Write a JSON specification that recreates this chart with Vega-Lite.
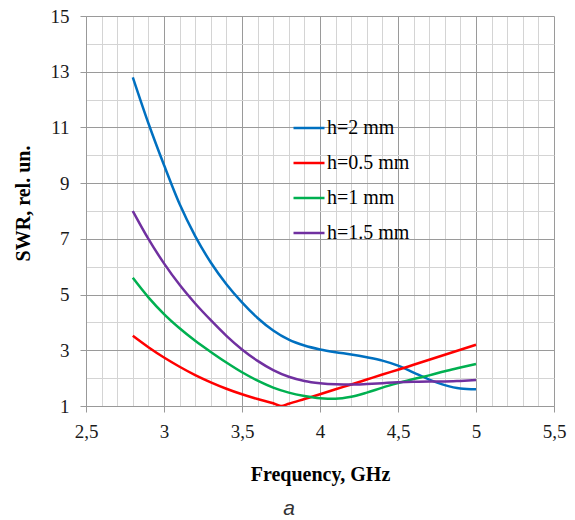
{
  "$schema": "https://vega.github.io/schema/vega-lite/v6.json",
  "autosize": "none",
  "width": 468,
  "height": 390,
  "padding": {"left": 86, "top": 16, "right": 21, "bottom": 114},
  "background": "white",
  "title": {
    "text": "a",
    "orient": "bottom",
    "anchor": "middle",
    "dx": -31,
    "offset": 14,
    "font": "Liberation Sans",
    "fontStyle": "italic",
    "fontWeight": "normal",
    "fontSize": 21,
    "color": "#333333"
  },
  "config": {
    "view": {"stroke": null},
    "axis": {
      "labelFontSize": 19,
      "labelColor": "#1a1a1a",
      "titleFont": "Liberation Serif",
      "titleFontSize": 20,
      "titleFontWeight": "bold",
      "titleColor": "#000000",
      "domainColor": "#999999",
      "tickSize": 6,
      "labelOverlap": false,
      "labelFlush": false,
      "labelBound": false
    }
  },
  "data": {
    "values": [
      {"f": 2.8, "v": 12.8, "h": "h=2 mm"},
      {"f": 2.9, "v": 11.15, "h": "h=2 mm"},
      {"f": 3.0, "v": 9.65, "h": "h=2 mm"},
      {"f": 3.1, "v": 8.25, "h": "h=2 mm"},
      {"f": 3.2, "v": 7.1, "h": "h=2 mm"},
      {"f": 3.3, "v": 6.15, "h": "h=2 mm"},
      {"f": 3.4, "v": 5.37, "h": "h=2 mm"},
      {"f": 3.5, "v": 4.72, "h": "h=2 mm"},
      {"f": 3.6, "v": 4.16, "h": "h=2 mm"},
      {"f": 3.7, "v": 3.71, "h": "h=2 mm"},
      {"f": 3.8, "v": 3.38, "h": "h=2 mm"},
      {"f": 3.9, "v": 3.17, "h": "h=2 mm"},
      {"f": 4.0, "v": 3.03, "h": "h=2 mm"},
      {"f": 4.1, "v": 2.93, "h": "h=2 mm"},
      {"f": 4.2, "v": 2.85, "h": "h=2 mm"},
      {"f": 4.3, "v": 2.75, "h": "h=2 mm"},
      {"f": 4.4, "v": 2.63, "h": "h=2 mm"},
      {"f": 4.5, "v": 2.45, "h": "h=2 mm"},
      {"f": 4.6, "v": 2.2, "h": "h=2 mm"},
      {"f": 4.7, "v": 1.95, "h": "h=2 mm"},
      {"f": 4.8, "v": 1.75, "h": "h=2 mm"},
      {"f": 4.9, "v": 1.63, "h": "h=2 mm"},
      {"f": 5.0, "v": 1.6, "h": "h=2 mm"},

      {"f": 2.8, "v": 3.52, "h": "h=0.5 mm"},
      {"f": 2.9, "v": 3.11, "h": "h=0.5 mm"},
      {"f": 3.0, "v": 2.74, "h": "h=0.5 mm"},
      {"f": 3.1, "v": 2.41, "h": "h=0.5 mm"},
      {"f": 3.2, "v": 2.11, "h": "h=0.5 mm"},
      {"f": 3.3, "v": 1.85, "h": "h=0.5 mm"},
      {"f": 3.4, "v": 1.62, "h": "h=0.5 mm"},
      {"f": 3.5, "v": 1.42, "h": "h=0.5 mm"},
      {"f": 3.6, "v": 1.25, "h": "h=0.5 mm"},
      {"f": 3.7, "v": 1.1, "h": "h=0.5 mm"},
      {"f": 3.75, "v": 1.0, "h": "h=0.5 mm"},
      {"f": 3.8, "v": 1.08, "h": "h=0.5 mm"},
      {"f": 3.9, "v": 1.25, "h": "h=0.5 mm"},
      {"f": 4.0, "v": 1.42, "h": "h=0.5 mm"},
      {"f": 4.1, "v": 1.6, "h": "h=0.5 mm"},
      {"f": 4.2, "v": 1.77, "h": "h=0.5 mm"},
      {"f": 4.3, "v": 1.95, "h": "h=0.5 mm"},
      {"f": 4.4, "v": 2.13, "h": "h=0.5 mm"},
      {"f": 4.5, "v": 2.3, "h": "h=0.5 mm"},
      {"f": 4.6, "v": 2.48, "h": "h=0.5 mm"},
      {"f": 4.7, "v": 2.66, "h": "h=0.5 mm"},
      {"f": 4.8, "v": 2.84, "h": "h=0.5 mm"},
      {"f": 4.9, "v": 3.02, "h": "h=0.5 mm"},
      {"f": 5.0, "v": 3.2, "h": "h=0.5 mm"},

      {"f": 2.8, "v": 5.6, "h": "h=1 mm"},
      {"f": 2.9, "v": 4.9, "h": "h=1 mm"},
      {"f": 3.0, "v": 4.3, "h": "h=1 mm"},
      {"f": 3.1, "v": 3.79, "h": "h=1 mm"},
      {"f": 3.2, "v": 3.34, "h": "h=1 mm"},
      {"f": 3.3, "v": 2.94, "h": "h=1 mm"},
      {"f": 3.4, "v": 2.56, "h": "h=1 mm"},
      {"f": 3.5, "v": 2.21, "h": "h=1 mm"},
      {"f": 3.6, "v": 1.91, "h": "h=1 mm"},
      {"f": 3.7, "v": 1.66, "h": "h=1 mm"},
      {"f": 3.8, "v": 1.48, "h": "h=1 mm"},
      {"f": 3.9, "v": 1.36, "h": "h=1 mm"},
      {"f": 4.0, "v": 1.28, "h": "h=1 mm"},
      {"f": 4.1, "v": 1.26, "h": "h=1 mm"},
      {"f": 4.2, "v": 1.33, "h": "h=1 mm"},
      {"f": 4.3, "v": 1.48, "h": "h=1 mm"},
      {"f": 4.4, "v": 1.66, "h": "h=1 mm"},
      {"f": 4.5, "v": 1.82, "h": "h=1 mm"},
      {"f": 4.6, "v": 1.97, "h": "h=1 mm"},
      {"f": 4.7, "v": 2.1, "h": "h=1 mm"},
      {"f": 4.8, "v": 2.25, "h": "h=1 mm"},
      {"f": 4.9, "v": 2.38, "h": "h=1 mm"},
      {"f": 5.0, "v": 2.51, "h": "h=1 mm"},

      {"f": 2.8, "v": 8.0, "h": "h=1.5 mm"},
      {"f": 2.9, "v": 7.0, "h": "h=1.5 mm"},
      {"f": 3.0, "v": 6.12, "h": "h=1.5 mm"},
      {"f": 3.1, "v": 5.35, "h": "h=1.5 mm"},
      {"f": 3.2, "v": 4.68, "h": "h=1.5 mm"},
      {"f": 3.3, "v": 4.08, "h": "h=1.5 mm"},
      {"f": 3.4, "v": 3.52, "h": "h=1.5 mm"},
      {"f": 3.5, "v": 3.03, "h": "h=1.5 mm"},
      {"f": 3.6, "v": 2.62, "h": "h=1.5 mm"},
      {"f": 3.7, "v": 2.29, "h": "h=1.5 mm"},
      {"f": 3.8, "v": 2.05, "h": "h=1.5 mm"},
      {"f": 3.9, "v": 1.9, "h": "h=1.5 mm"},
      {"f": 4.0, "v": 1.82, "h": "h=1.5 mm"},
      {"f": 4.1, "v": 1.78, "h": "h=1.5 mm"},
      {"f": 4.2, "v": 1.77, "h": "h=1.5 mm"},
      {"f": 4.3, "v": 1.79, "h": "h=1.5 mm"},
      {"f": 4.4, "v": 1.82, "h": "h=1.5 mm"},
      {"f": 4.5, "v": 1.85, "h": "h=1.5 mm"},
      {"f": 4.6, "v": 1.87, "h": "h=1.5 mm"},
      {"f": 4.7, "v": 1.88, "h": "h=1.5 mm"},
      {"f": 4.8, "v": 1.88, "h": "h=1.5 mm"},
      {"f": 4.9, "v": 1.9, "h": "h=1.5 mm"},
      {"f": 5.0, "v": 1.93, "h": "h=1.5 mm"}
    ]
  },
  "mark": {"type": "line", "interpolate": "monotone", "strokeWidth": 2.5, "clip": true},
  "encoding": {
    "x": {
      "field": "f",
      "type": "quantitative",
      "scale": {"domain": [2.5, 5.5], "nice": false, "zero": false},
      "axis": {
        "title": "Frequency, GHz",
        "titlePadding": 23,
        "labelFont": "Liberation Serif",
        "labelFontWeight": 500,
        "values": [2.5, 2.6, 2.7, 2.8, 2.9, 3.0, 3.1, 3.2, 3.3, 3.4, 3.5, 3.6, 3.7, 3.8, 3.9, 4.0, 4.1, 4.2, 4.3, 4.4, 4.5, 4.6, 4.7, 4.8, 4.9, 5.0, 5.1, 5.2, 5.3, 5.4, 5.5],
        "labelExpr": "abs(datum.value*2 - round(datum.value*2)) < 0.001 ? replace(format(datum.value, '.1~f'), '.', ',') : ''",
        "labelPadding": 10,
        "grid": true,
        "gridColor": {"condition": {"test": "abs(datum.value*2 - round(datum.value*2)) < 0.001", "value": "#9a9a9a"}, "value": "#d4d4d4"},
        "gridWidth": 1,
        "tickColor": "#999999",
        "tickOpacity": {"condition": {"test": "abs(datum.value*2 - round(datum.value*2)) < 0.001", "value": 1}, "value": 0}
      }
    },
    "y": {
      "field": "v",
      "type": "quantitative",
      "scale": {"domain": [1, 15], "nice": false, "zero": false},
      "axis": {
        "title": "SWR, rel. un.",
        "titleX": -63,
        "titleY": 187,
        "titleAlign": "center",
        "titleBaseline": "middle",
        "titleAngle": -90,
        "labelFont": "Liberation Serif",
        "labelFontWeight": 500,
        "values": [1, 2, 3, 4, 5, 6, 7, 8, 9, 10, 11, 12, 13, 14, 15],
        "labelExpr": "datum.value % 2 == 1 ? datum.value + '' : ''",
        "labelPadding": 11,
        "grid": true,
        "gridColor": {"condition": {"test": "datum.value % 2 == 1", "value": "#9a9a9a"}, "value": "#d4d4d4"},
        "gridWidth": 1,
        "tickColor": "#999999",
        "tickOpacity": {"condition": {"test": "datum.value % 2 == 1", "value": 1}, "value": 0}
      }
    },
    "color": {
      "field": "h",
      "type": "nominal",
      "scale": {
        "domain": ["h=2 mm", "h=0.5 mm", "h=1 mm", "h=1.5 mm"],
        "range": ["#0070C0", "#FF0000", "#00B050", "#7030A0"]
      },
      "legend": {
        "title": null,
        "orient": "none",
        "legendX": 206,
        "legendY": 95,
        "padding": 0,
        "symbolType": "stroke",
        "symbolSize": 961,
        "symbolStrokeWidth": 2.5,
        "rowPadding": 8,
        "labelOffset": 1,
        "labelFont": "Liberation Serif",
        "labelFontWeight": 500,
        "labelFontSize": 20,
        "labelColor": "#000000",
        "labelLimit": 200
      }
    }
  }
}
